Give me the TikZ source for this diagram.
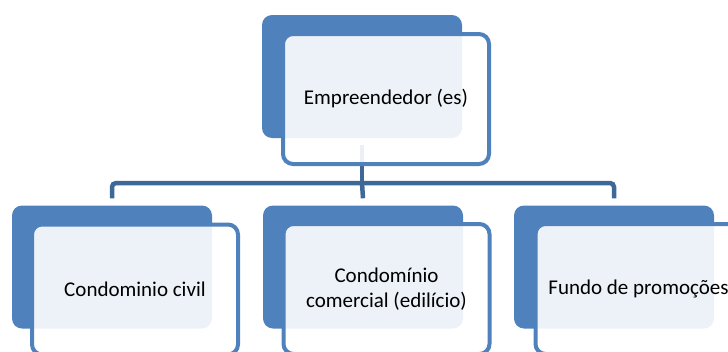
\documentclass[tikz,border=0pt]{standalone}
\usepackage{fontspec}
\setmainfont{Carlito}
\definecolor{accent}{RGB}{79,129,189}
\definecolor{conn}{RGB}{62,104,150}
\begin{document}
\begin{tikzpicture}[x=1pt,y=-1pt,
  backbox/.style={fill=accent, draw=none, rounded corners=10pt, minimum width=200pt, minimum height=123pt, inner sep=0pt},
  frontbox/.style={draw=accent, line width=4pt, fill=white, fill opacity=0.9, text opacity=1, rounded corners=10pt,
    minimum width=206pt, minimum height=130pt, inner sep=0pt, align=center, text=black,
    font=\fontsize{21}{25}\selectfont},
  link/.style={draw=conn, line width=4.5pt, rounded corners=4pt}]
\useasboundingbox (0,0) rectangle (728,351);
\clip (0,0) rectangle (728,351);
% back boxes
\node[backbox] (tb) at (362,76.5) {};
\node[backbox] (lb) at (112,267) {};
\node[backbox] (mb) at (363,267) {};
\node[backbox] (rb) at (614,267) {};
% connectors
\coordinate (bus) at (362,183);
\draw[link] ([yshift=-7pt]tb.south) -- (bus);
\draw[link] ([yshift=7pt]lb.north) |- (bus) -| ([yshift=7pt]rb.north);
\draw[link] (bus) -- ([yshift=7pt]mb.north);
% front boxes
\node[frontbox] (tf) at (386,99) {Empreendedor (es)};
\node[frontbox] (lf) at (135,289.5) {Condominio civil};
\node[frontbox] (mf) at (386.5,289) {Condomínio\\comercial (edilício)};
\node[frontbox] (rf) at (638.5,289) {Fundo de promoções};
\end{tikzpicture}
\end{document}
